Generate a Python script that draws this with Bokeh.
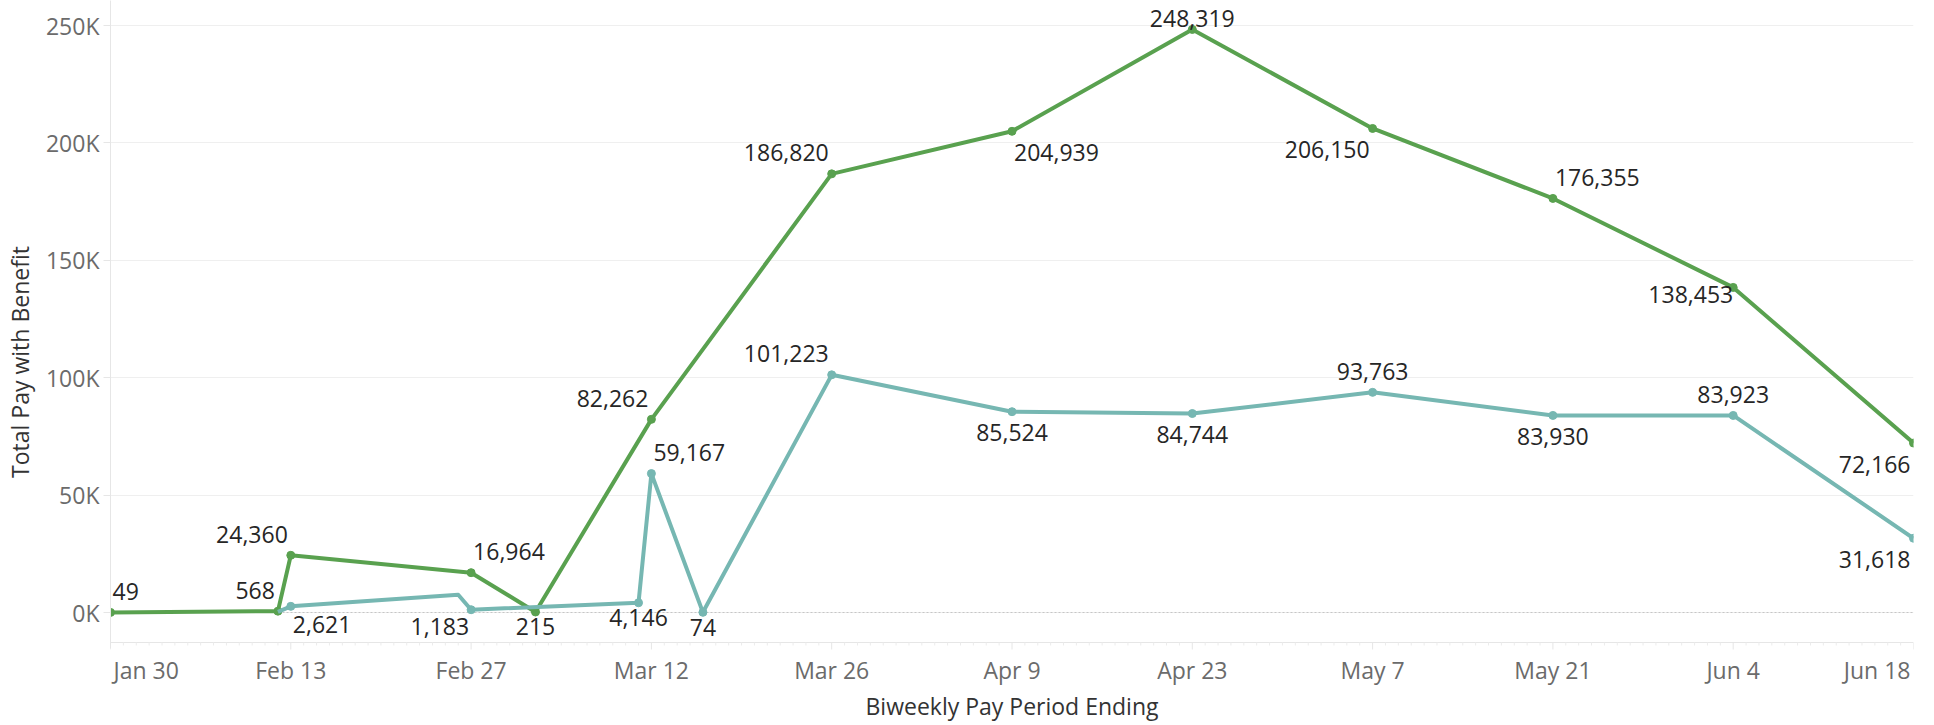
import datetime as dt
from bokeh.plotting import figure
from bokeh.models import FixedTicker, Span, ColumnDataSource
from bokeh.core.properties import value
from bokeh.embed import file_html
from bokeh.resources import INLINE

# ---------------- data ----------------
start_date = "2020-01-30"
end_date = "2020-06-18"

green_dates = ["2020-01-30", "2020-02-12", "2020-02-13", "2020-02-27", "2020-03-03",
               "2020-03-12", "2020-03-26", "2020-04-09", "2020-04-23", "2020-05-07",
               "2020-05-21", "2020-06-04", "2020-06-18"]
green_values = [49, 568, 24360, 16964, 215, 82262, 186820, 204939, 248319, 206150,
                176355, 138453, 72166]

teal_dates = ["2020-02-12", "2020-02-13", "2020-02-26", "2020-02-27", "2020-03-11",
              "2020-03-12", "2020-03-16", "2020-03-26", "2020-04-09", "2020-04-23",
              "2020-05-07", "2020-05-21", "2020-06-04", "2020-06-18"]
teal_values = [300, 2621, 7540, 1183, 4146, 59167, 74, 101223, 85524, 84744, 93763,
               83930, 83923, 31618]

x_tick_dates = ["2020-01-30", "2020-02-13", "2020-02-27", "2020-03-12", "2020-03-26",
                "2020-04-09", "2020-04-23", "2020-05-07", "2020-05-21", "2020-06-04",
                "2020-06-18"]
x_tick_labels = ["Jan 30", "Feb 13", "Feb 27", "Mar 12", "Mar 26", "Apr 9", "Apr 23",
                 "May 7", "May 21", "Jun 4", "Jun 18"]
y_tick_values = [0, 50000, 100000, 150000, 200000, 250000]
y_tick_labels = ["0K", "50K", "100K", "150K", "200K", "250K"]

x_title = "Biweekly Pay Period Ending"
y_title = "Total Pay with Benefit"

# ---------------- style / layout ----------------
GREEN = "#59A14F"
TEAL = "#76B7B2"
FONT = "Open Sans"
LABEL_COLOR = "#262626"
TICK_COLOR = "#6b6b6b"
TITLE_COLOR = "#333333"
LIGHT = "#e6e6e6"
FS = "23px"

# label placement codes (None = no label / no marker)
green_place = ["ar", "al", "al", "ar", "bs", "al", "al", "br", "top", "bl", "ar", "l", "bl"]
teal_place = [None, "brs", None, "bls", "bs", "ar", "bs", "al", "b", "b", "a", "b", "a", "bl"]

PLACE = {  # code -> (align, dx, dy of the text centre)
    "a": ("center", 0, -21), "al": ("right", -3, -21), "ar": ("left", 2, -21),
    "b": ("center", 0, 21), "bl": ("right", -3, 21), "br": ("left", 2, 21),
    "bs": ("center", 0, 15), "bls": ("right", -2, 17), "brs": ("left", 2, 18),
    "l": ("right", 0, 7), "top": ("center", 0, -11),
}

W, H = 1926, 723
BL, BR = 110, 13
# vertical geometry (pixels below the top of the plot frame)
ZERO_PX, TOP_TICK_PX = 612, 25          # where 0 and 250K sit
AXIS_PX = 642                           # x axis rule
TICK_MID_PX = 669                       # centre of the date labels
TITLE_MID_PX = 705                      # centre of the x title
PX = (ZERO_PX - TOP_TICK_PX) / y_tick_values[-1]
Y_END = y_tick_values[-1] + TOP_TICK_PX / PX
Y_START = -(H - ZERO_PX) / PX


def y_px(px_from_top):
    return Y_END - px_from_top / PX


d0 = dt.date.fromisoformat(start_date)


def day(s):
    return (dt.date.fromisoformat(s) - d0).days


x_end = day(end_date)

p = figure(width=W, height=H, x_range=(0, x_end), y_range=(Y_START, Y_END),
           output_backend="svg", toolbar_location=None, x_axis_location=None,
           min_border_left=BL, min_border_right=BR, min_border_top=0, min_border_bottom=0)
p.outline_line_color = None
p.background_fill_color = "white"
p.border_fill_color = "white"
p.xgrid.visible = False

# grid
p.ygrid.ticker = FixedTicker(ticks=y_tick_values)
p.ygrid.grid_line_color = "#efefef"
p.ygrid.grid_line_width = 1

# zero line
p.add_layout(Span(location=0, dimension="width", line_color="#c6c6c6",
                  line_dash="2 2", line_width=1, level="underlay"))

# ---- x axis drawn inside the frame (rule, ticks, labels, title) ----
axis_y = y_px(AXIS_PX)
p.add_layout(Span(location=axis_y, dimension="width", line_color=LIGHT,
                  line_width=1, level="underlay"))
x_ticks = [day(d) for d in x_tick_dates]
minor = [d for d in range(0, x_end + 1) if d not in x_ticks]
p.segment(x0=minor, y0=[axis_y] * len(minor), x1=minor, y1=[y_px(AXIS_PX + 3)] * len(minor),
          line_color="#ececec", line_width=1)
p.segment(x0=x_ticks, y0=[axis_y] * len(x_ticks), x1=x_ticks,
          y1=[y_px(AXIS_PX + 7)] * len(x_ticks), line_color=LIGHT, line_width=1)

tick_y = y_px(TICK_MID_PX)
for sel, align, dx in [(slice(0, 1), "left", 3), (slice(1, -1), "center", 0),
                       (slice(-1, None), "right", -3)]:
    p.text(x=x_ticks[sel], y=[tick_y] * len(x_ticks[sel]), text=x_tick_labels[sel],
           x_offset=dx, text_align=align, text_baseline="alphabetic",
           text_font=value(FONT), text_font_size=FS, text_color=TICK_COLOR)

p.text(x=[x_end / 2], y=[y_px(TITLE_MID_PX)], text=[x_title], text_align="center",
       text_baseline="alphabetic", text_font=value(FONT), text_font_size=FS,
       text_color=TITLE_COLOR)

# ---- y axis ----
p.yaxis.ticker = FixedTicker(ticks=y_tick_values, minor_ticks=[])
p.yaxis.bounds = (y_px(AXIS_PX + 6), Y_END)
p.yaxis.major_label_overrides = {v: lab for v, lab in zip(y_tick_values, y_tick_labels)}
p.yaxis.axis_line_color = LIGHT
p.yaxis.major_tick_line_color = LIGHT
p.yaxis.major_tick_out = 7
p.yaxis.major_tick_in = 0
p.yaxis.minor_tick_line_color = None
p.yaxis.major_label_standoff = 4
p.yaxis.major_label_text_font = FONT
p.yaxis.major_label_text_font_size = FS
p.yaxis.major_label_text_color = TICK_COLOR
p.yaxis.axis_label = y_title
p.yaxis.axis_label_text_font = FONT
p.yaxis.axis_label_text_font_size = FS
p.yaxis.axis_label_text_font_style = "normal"
p.yaxis.axis_label_text_color = TITLE_COLOR
p.yaxis.axis_label_standoff = 7


def draw(dates, values, places, color):
    xs = [day(d) for d in dates]
    p.line(xs, values, line_color=color, line_width=4, line_join="round")
    mx = [x for x, pl in zip(xs, places) if pl]
    my = [v for v, pl in zip(values, places) if pl]
    p.scatter(mx, my, size=8, fill_color=color, line_color=color)
    groups = {}
    for x, v, pl in zip(xs, values, places):
        if not pl:
            continue
        align, dx, dy = PLACE[pl]
        g = groups.setdefault(align, {"x": [], "y": [], "t": [], "dx": [], "dy": []})
        g["x"].append(x)
        g["y"].append(v)
        g["t"].append(f"{v:,}")
        g["dx"].append(dx)
        g["dy"].append(dy)
    return groups


label_groups = [draw(green_dates, green_values, green_place, GREEN),
                draw(teal_dates, teal_values, teal_place, TEAL)]
for groups in label_groups:
    for align, g in groups.items():
        src = ColumnDataSource(g)
        p.text(x="x", y="y", text="t", x_offset="dx", y_offset="dy", source=src,
               text_align=align, text_baseline="alphabetic",
               text_font=value(FONT), text_font_size=FS, text_color=LABEL_COLOR)

open("out.html", "w").write(file_html(p, INLINE))
